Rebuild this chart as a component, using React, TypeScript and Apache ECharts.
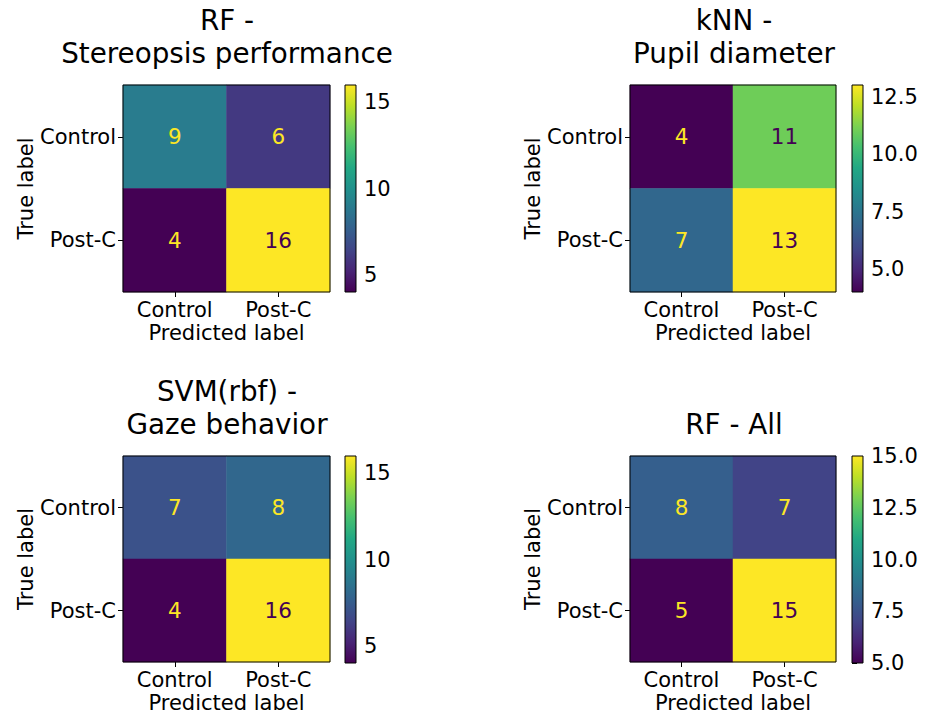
import React, { useEffect, useRef } from "react";
import * as echarts from "echarts";

const categories = ["Control", "Post-C"];
const titles = ["RF -\nStereopsis performance", "kNN -\nPupil diameter", "SVM(rbf) -\nGaze behavior", "RF - All"];
// matrices: rows = true label, cols = predicted label
const matrixRF = [[9, 6], [4, 16]];
const matrixKNN = [[4, 11], [7, 13]];
const matrixSVM = [[7, 8], [4, 16]];
const matrixAll = [[8, 7], [5, 15]];
const matrices = [matrixRF, matrixKNN, matrixSVM, matrixAll];
const colorbarTicks1 = [5, 10, 15];
const colorbarTicks2 = [5, 7.5, 10, 12.5];
const colorbarTicks3 = [5, 10, 15];
const colorbarTicks4 = [5, 7.5, 10, 12.5, 15];
const colorbarTicks = [colorbarTicks1, colorbarTicks2, colorbarTicks3, colorbarTicks4];
const tickDecimals = [0, 1, 0, 1];

const VIRIDIS = ["#440154", "#482475", "#414487", "#355f8d", "#2a788e", "#21918c", "#22a884", "#44bf70", "#7ad151", "#bddf26", "#fde725"];

const LAYOUT = [
  { left: 123, top: 85, w: 207, h: 207, cbLeft: 345, cbW: 11, titleX: 227, titleTop: 4 },
  { left: 630, top: 85, w: 206, h: 207, cbLeft: 852, cbW: 11, titleX: 734, titleTop: 4 },
  { left: 123, top: 456, w: 207, h: 207, cbLeft: 345, cbW: 11, titleX: 227, titleTop: 375 },
  { left: 630, top: 456, w: 206, h: 207, cbLeft: 852, cbW: 11, titleX: 734, titleTop: 408 },
];

const FONT = "DejaVu Sans";

export default function App() {
  const ref = useRef<HTMLDivElement>(null);
  useEffect(() => {
    if (!ref.current) return;
    const chart = echarts.init(ref.current, undefined, { renderer: "svg" });
    const grid: any[] = [];
    const xAxis: any[] = [];
    const yAxis: any[] = [];
    const series: any[] = [];
    const visualMap: any[] = [];
    const title: any[] = [];

    matrices.forEach((m, i) => {
      const L = LAYOUT[i];
      const flat = m.flat();
      const vmin = Math.min(...flat);
      const vmax = Math.max(...flat);
      const thresh = (vmin + vmax) / 2;
      grid.push({ left: L.left, top: L.top, width: L.w, height: L.h, show: true, borderColor: "#000", borderWidth: 1, backgroundColor: "transparent", z: 10 });
      grid.push({ left: L.cbLeft, top: L.top, width: L.cbW, height: L.h, show: true, borderColor: "#000", borderWidth: 1, backgroundColor: "transparent", z: 10 });
      const hg = 2 * i;
      const cg = 2 * i + 1;
      xAxis.push({
        type: "category", gridIndex: hg, data: categories, position: "bottom",
        name: "Predicted label", nameLocation: "middle", nameGap: 30,
        nameTextStyle: { fontSize: 21, color: "#000", fontFamily: FONT },
        axisLine: { show: false },
        axisTick: { show: true, alignWithLabel: true, length: 5, lineStyle: { color: "#000" } },
        axisLabel: { fontSize: 21, color: "#000", fontFamily: FONT, margin: 7 },
        splitLine: { show: false },
      });
      yAxis.push({
        type: "category", gridIndex: hg, data: categories, inverse: true,
        name: "True label", nameLocation: "middle", nameGap: 86, nameRotate: 90,
        nameTextStyle: { fontSize: 21, color: "#000", fontFamily: FONT },
        axisLine: { show: false },
        axisTick: { show: true, alignWithLabel: true, length: 5, lineStyle: { color: "#000" } },
        axisLabel: { fontSize: 21, color: "#000", fontFamily: FONT, margin: 7 },
        splitLine: { show: false },
      });
      xAxis.push({ type: "value", gridIndex: cg, min: 0, max: 1, show: false });
      const ticks = colorbarTicks[i];
      const dec = tickDecimals[i];
      yAxis.push({
        type: "value", gridIndex: cg, min: vmin, max: vmax, position: "right",
        axisLine: { show: false },
        axisTick: { show: true, length: 5, customValues: ticks, lineStyle: { color: "#000" } },
        axisLabel: { show: true, customValues: ticks, fontSize: 21, color: "#000", fontFamily: FONT, margin: 8, formatter: (v: number) => v.toFixed(dec) },
        splitLine: { show: false },
      });
      const data: any[] = [];
      m.forEach((row, r) => row.forEach((v, c) => {
        data.push({ value: [c, r, v], label: { color: v < thresh ? VIRIDIS[VIRIDIS.length - 1] : VIRIDIS[0] } });
      }));
      const hIdx = series.length;
      series.push({
        type: "heatmap", xAxisIndex: 2 * i, yAxisIndex: 2 * i, data,
        label: { show: true, fontSize: 21.5, fontFamily: FONT },
        itemStyle: { borderWidth: 0 },
      });
      visualMap.push({ show: false, seriesIndex: hIdx, min: vmin, max: vmax, dimension: 2, inRange: { color: VIRIDIS } });
      series.push({
        type: "custom", xAxisIndex: 2 * i + 1, yAxisIndex: 2 * i + 1,
        data: [[0, vmin, vmax]],
        renderItem: (params: any, api: any) => {
          const p0 = api.coord([0, api.value(2)]);
          const p1 = api.coord([1, api.value(1)]);
          const stops = VIRIDIS.map((c, k) => ({ offset: k / (VIRIDIS.length - 1), color: c }));
          return {
            type: "rect",
            shape: { x: p0[0], y: p0[1], width: p1[0] - p0[0], height: p1[1] - p0[1] },
            style: { fill: new echarts.graphic.LinearGradient(0, 1, 0, 0, stops) },
          };
        },
      });
      title.push({
        text: titles[i], left: L.titleX, top: L.titleTop, textAlign: "center", padding: 0,
        textStyle: { fontSize: 27.8, fontWeight: "normal", color: "#000", fontFamily: FONT, lineHeight: 33 },
      });
    });

    chart.setOption({
      animation: false,
      backgroundColor: "#fff",
      textStyle: { fontFamily: FONT },
      title, grid, xAxis, yAxis, series, visualMap,
    });
    return () => chart.dispose();
  }, []);
  return <div ref={ref} style={{ position: "absolute", left: 0, top: 0, width: 926, height: 714 }} />;
}
